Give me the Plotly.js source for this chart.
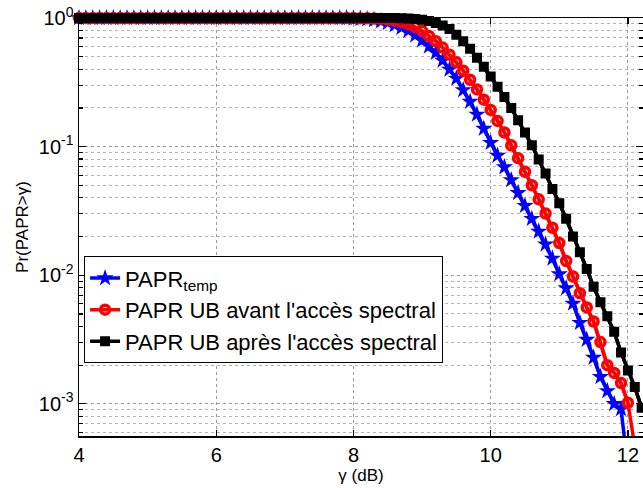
<!DOCTYPE html>
<html>
<head>
<meta charset="utf-8">
<script src="https://cdn.plot.ly/plotly-3.0.1.min.js"></script>
<style>html,body{margin:0;padding:0;background:#fff}#chart{width:643px;height:488px}</style>
</head>
<body>
<div id="chart"></div>
<script>
// gamma (dB)
const gammaDb = [4.0,4.1,4.2,4.3,4.4,4.5,4.6,4.7,4.8,4.9,5.0,5.1,5.2,5.3,5.4,5.5,5.6,5.7,5.8,5.9,
  6.0,6.1,6.2,6.3,6.4,6.5,6.6,6.7,6.8,6.9,7.0,7.1,7.2,7.3,7.4,7.5,7.6,7.7,7.8,7.9,
  8.0,8.1,8.2,8.3,8.4,8.5,8.6,8.7,8.8,8.9,9.0,9.1,9.2,9.3,9.4,9.5,9.6,9.7,9.8,9.9,
  10.0,10.1,10.2,10.3,10.4,10.5,10.6,10.7,10.8,10.9,11.0,11.1,11.2,11.3,11.4,11.5,11.6,11.7,11.8,11.9,
  12.0,12.1,12.2];

// PAPR_temp (blue)
const paprTemp = [1,1,1,1,1,1,1,1,1,1,1,1,1,1,1,1,1,1,1,1,
  1,1,1,1,1,1,1,1,1,1,1,1,1,1,1,1,1,1,1,0.9977,
  0.9943,0.9886,0.9795,0.9661,0.9441,0.9162,0.8810,0.8414,0.7943,0.7328,0.6683,0.6026,0.5370,0.4677,0.3981,0.3388,0.2754,0.2239,0.1778,0.1380,
  0.1072,0.0851,0.0692,0.0550,0.0437,0.0347,0.0275,0.0219,0.0174,0.0135,0.0102,0.00794,0.00603,0.00427,0.00316,0.00229,0.00162,0.00126,0.00100,0.000912,
  0.000316,null,null];

// PAPR UB avant l'accès spectral (red)
const paprUbAvant = [1,1,1,1,1,1,1,1,1,1,1,1,1,1,1,1,1,1,1,1,
  1,1,1,1,1,1,1,1,1,1,1,1,1,1,1,1,1,1,1,1,
  1,0.9977,0.9954,0.9908,0.9840,0.9727,0.9550,0.9290,0.8954,0.8511,0.7943,0.7244,0.6607,0.5888,0.5188,0.4519,0.3890,0.3311,0.2786,0.2317,
  0.1928,0.1585,0.1288,0.1023,0.0813,0.0638,0.0501,0.0389,0.0302,0.0234,0.0178,0.0129,0.00977,0.00724,0.00562,0.00437,0.00302,0.00200,0.00174,0.00145,
  0.00102,0.000468,null];

// PAPR UB après l'accès spectral (black)
const paprUbApres = [1,1,1,1,1,1,1,1,1,1,1,1,1,1,1,1,1,1,1,1,
  1,1,1,1,1,1,1,1,1,1,1,1,1,1,1,1,1,1,1,1,
  1,1,1,1,1,1,1,0.9954,0.9908,0.9817,0.9683,0.9462,0.9162,0.8750,0.8222,0.7413,0.6607,0.5754,0.4898,0.4169,
  0.3508,0.2917,0.2427,0.1995,0.1603,0.1288,0.1023,0.0794,0.0617,0.0468,0.0363,0.0275,0.0200,0.0151,0.0112,0.00813,0.00617,0.00479,0.00363,0.00251,
  0.00182,0.00135,0.000933];

const xTickVals = [4,6,8,10,12];
const xTickText = ['4','6','8','10','12'];
const yTickVals = [0.001,0.01,0.1,1];
const yTickText = ['10<sup>-3</sup>','10<sup>-2</sup>','10<sup>-1</sup>','10<sup>0</sup>'];

const Y_LOG_MIN = -3.25, Y_LOG_MAX = 0;
const X_MIN = 4, X_MAX = 12.22;
const yMinVal = Math.pow(10, Y_LOG_MIN);

const series = [
  {name:'PAPR<sub>temp</sub>', y:paprTemp, color:'#0000ff', marker:{symbol:'star', size:13, color:'#0000ff', line:{width:0}}},
  {name:"PAPR UB avant l'accès spectral", y:paprUbAvant, color:'#ff0000', marker:{symbol:'circle-open', size:9, color:'#ff0000', line:{width:3.5, color:'#ff0000'}}},
  {name:"PAPR UB après l'accès spectral", y:paprUbApres, color:'#000000', marker:{symbol:'square', size:8, color:'#000000', line:{width:2, color:'#000000'}}}
];

const traces = [];
// line tails (clipped) so curves run to the bottom edge
series.forEach(s => {
  traces.push({x:gammaDb, y:s.y, type:'scatter', mode:'lines', line:{color:s.color, width:3.5},
    showlegend:false, hoverinfo:'skip', cliponaxis:true, connectgaps:false});
});
series.forEach(s => {
  const xs = [], ys = [];
  gammaDb.forEach((g,i) => { const v = s.y[i]; if (v !== null && v >= yMinVal && g <= X_MAX) { xs.push(g); ys.push(v); } });
  traces.push({x:xs, y:ys, type:'scatter', mode:'lines+markers', name:s.name,
    line:{color:s.color, width:3.5}, marker:s.marker, cliponaxis:false});
});

const minorVals = [];
[0.0001,0.001,0.01,0.1].forEach(d => { for (let k=2;k<=9;k++) { const v=k*d; if (Math.log10(v) >= Y_LOG_MIN) minorVals.push(v); } });

const font = {family:'"Liberation Sans", Arial, Helvetica, sans-serif', color:'#000'};
const layout = {
  width:643, height:488,
  margin:{l:79, r:0, t:18, b:52, pad:0},
  paper_bgcolor:'#fff', plot_bgcolor:'#fff',
  font:Object.assign({size:20}, font),
  showlegend:true,
  legend:{x:0.009, y:0.43, xanchor:'left', yanchor:'top', bgcolor:'#fff', bordercolor:'#000', borderwidth:1,
    font:Object.assign({size:22}, font), tracegroupgap:0, itemwidth:30},
  xaxis:{range:[X_MIN, X_MAX], tickmode:'array', tickvals:xTickVals, ticktext:xTickText,
    ticks:'inside', ticklen:6, tickwidth:1.2, tickcolor:'#000', mirror:'ticks', showline:true, linecolor:'#000', linewidth:1.5,
    showgrid:true, gridcolor:'#9a9a9a', griddash:'dot', gridwidth:1, zeroline:false,
    tickfont:Object.assign({size:20}, font),
    title:{text:'γ (dB)', font:Object.assign({size:17}, font), standoff:4}},
  yaxis:{type:'log', range:[Y_LOG_MIN, Y_LOG_MAX], tickmode:'array', tickvals:yTickVals, ticktext:yTickText,
    ticks:'inside', ticklen:7, tickwidth:1.2, tickcolor:'#000', mirror:'ticks', showline:true, linecolor:'#000', linewidth:1.5,
    showgrid:true, gridcolor:'#9a9a9a', griddash:'dot', gridwidth:1, zeroline:false,
    tickfont:Object.assign({size:20}, font),
    minor:{tickmode:'array', tickvals:minorVals, ticks:'inside', ticklen:4, tickcolor:'#000', showgrid:true, gridcolor:'#b5b5b5', griddash:'dot', gridwidth:1},
    title:{text:'Pr(PAPR>γ)', font:Object.assign({size:17}, font), standoff:6}}
};

Plotly.newPlot('chart', traces, layout, {staticPlot:true, displayModeBar:false});
</script>
</body>
</html>
